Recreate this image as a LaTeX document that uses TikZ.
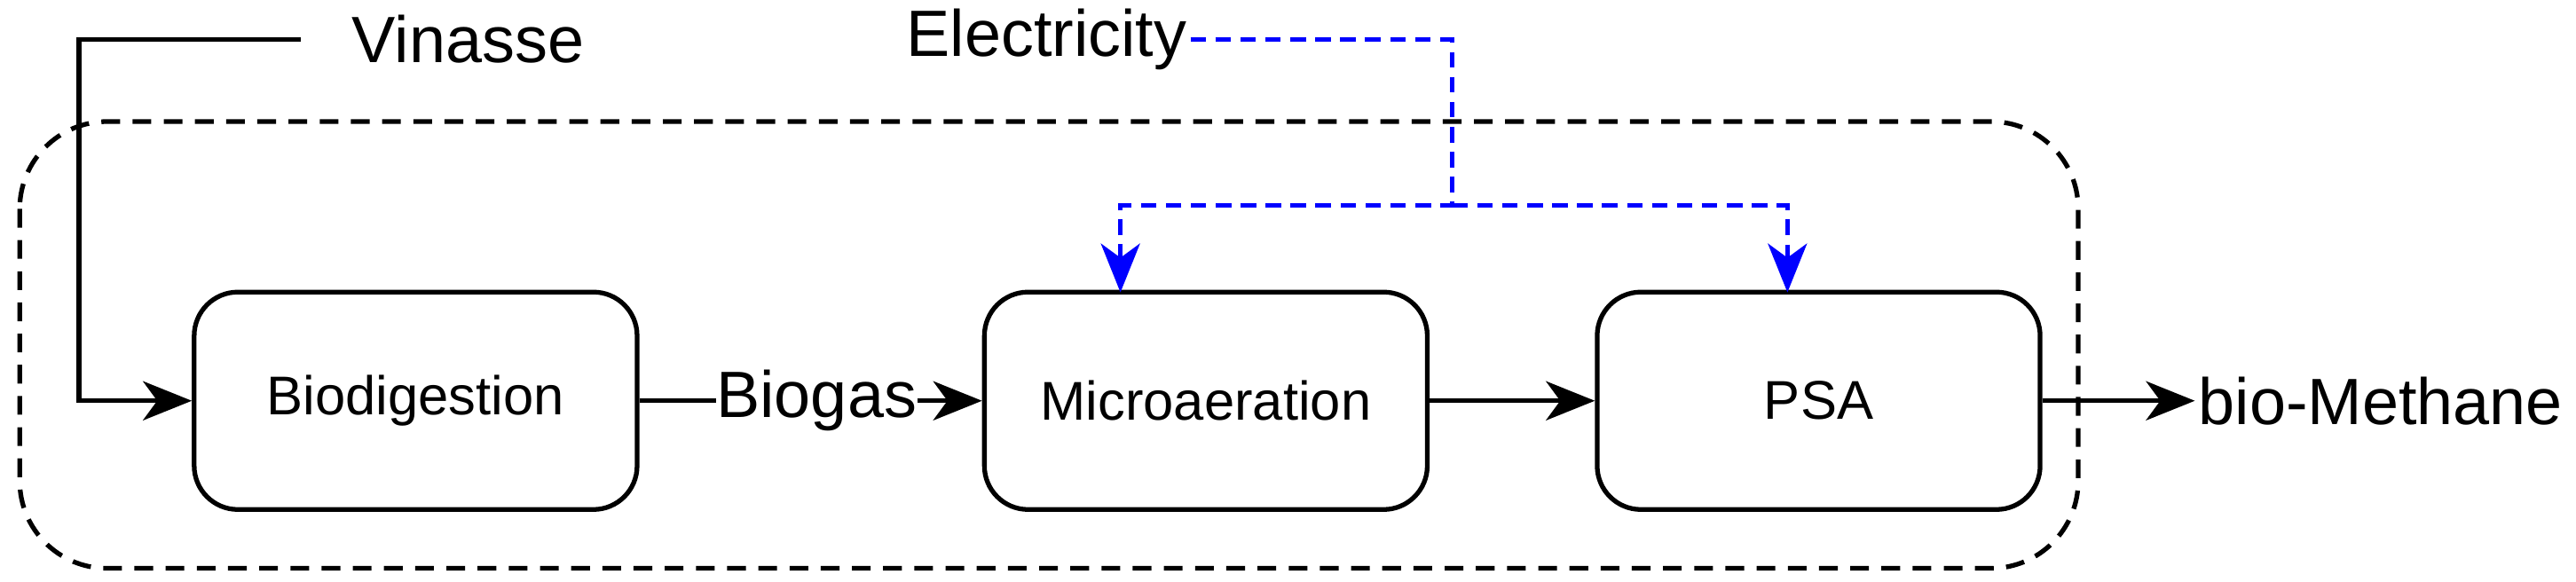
\documentclass[tikz,border=0pt]{standalone}
\usepackage{fontspec}
\setmainfont{Liberation Sans}
\usetikzlibrary{arrows.meta,positioning}
\tikzset{
  block/.style={draw,line width=1.5pt,rounded corners=14pt,minimum width=4.99cm,minimum height=2.45cm,font=\fontsize{17.5}{21}\selectfont},
  flow/.style={line width=1.5pt,-{Stealth[length=5.5mm,width=4.4mm,inset=1.6mm]}},
  power/.style={blue,line width=1.3pt,dash pattern=on 5pt off 3pt,-{Stealth[length=5.5mm,width=4.4mm,inset=1.6mm]}},
  lbl/.style={font=\fontsize{21}{25}\selectfont,inner sep=1pt}
}
\begin{document}
\begin{tikzpicture}[x=0.01851cm,y=-0.01851cm]
\useasboundingbox (0,0) rectangle (1568,354);
% process chain
\node[block] (bio) at (253,244) {Biodigestion};
\node[block] (mic) at (734,244) {Microaeration};
\node[block] (psa) at (1107,244) {PSA};
\node[lbl] (vin) at (285,24) {Vinasse};
\node[lbl] (ele) at (637,24) {Electricity};
\node[lbl,anchor=west] (meth) at (1336,244) {bio-Methane};
\node[lbl,fill=white,inner sep=0pt] (gas) at (497,244) {Biogas};
% system boundary
\draw[line width=1.5pt,dash pattern=on 6pt off 4pt,rounded corners=28pt] (12,74) rectangle (1265,346);
% connectors
\coordinate (vs) at (183,24);
\coordinate (split) at (884,125);
\coordinate (micin) at (682,178);
\coordinate (psain) at (1088,178);
\draw[flow] (vs) -- (48,24) |- (bio.west);
\draw[line width=1.5pt] (bio.east) -- (gas.west);
\draw[flow] (gas.east) -- (mic.west);
\draw[flow] (mic.east) -- (psa.west);
\draw[flow] (psa.east) -- (meth.west);
\draw[power] (ele.east) -- (884,24) -- (split) -| (micin);
\draw[power] (split) -| (psain);
\end{tikzpicture}
\end{document}
